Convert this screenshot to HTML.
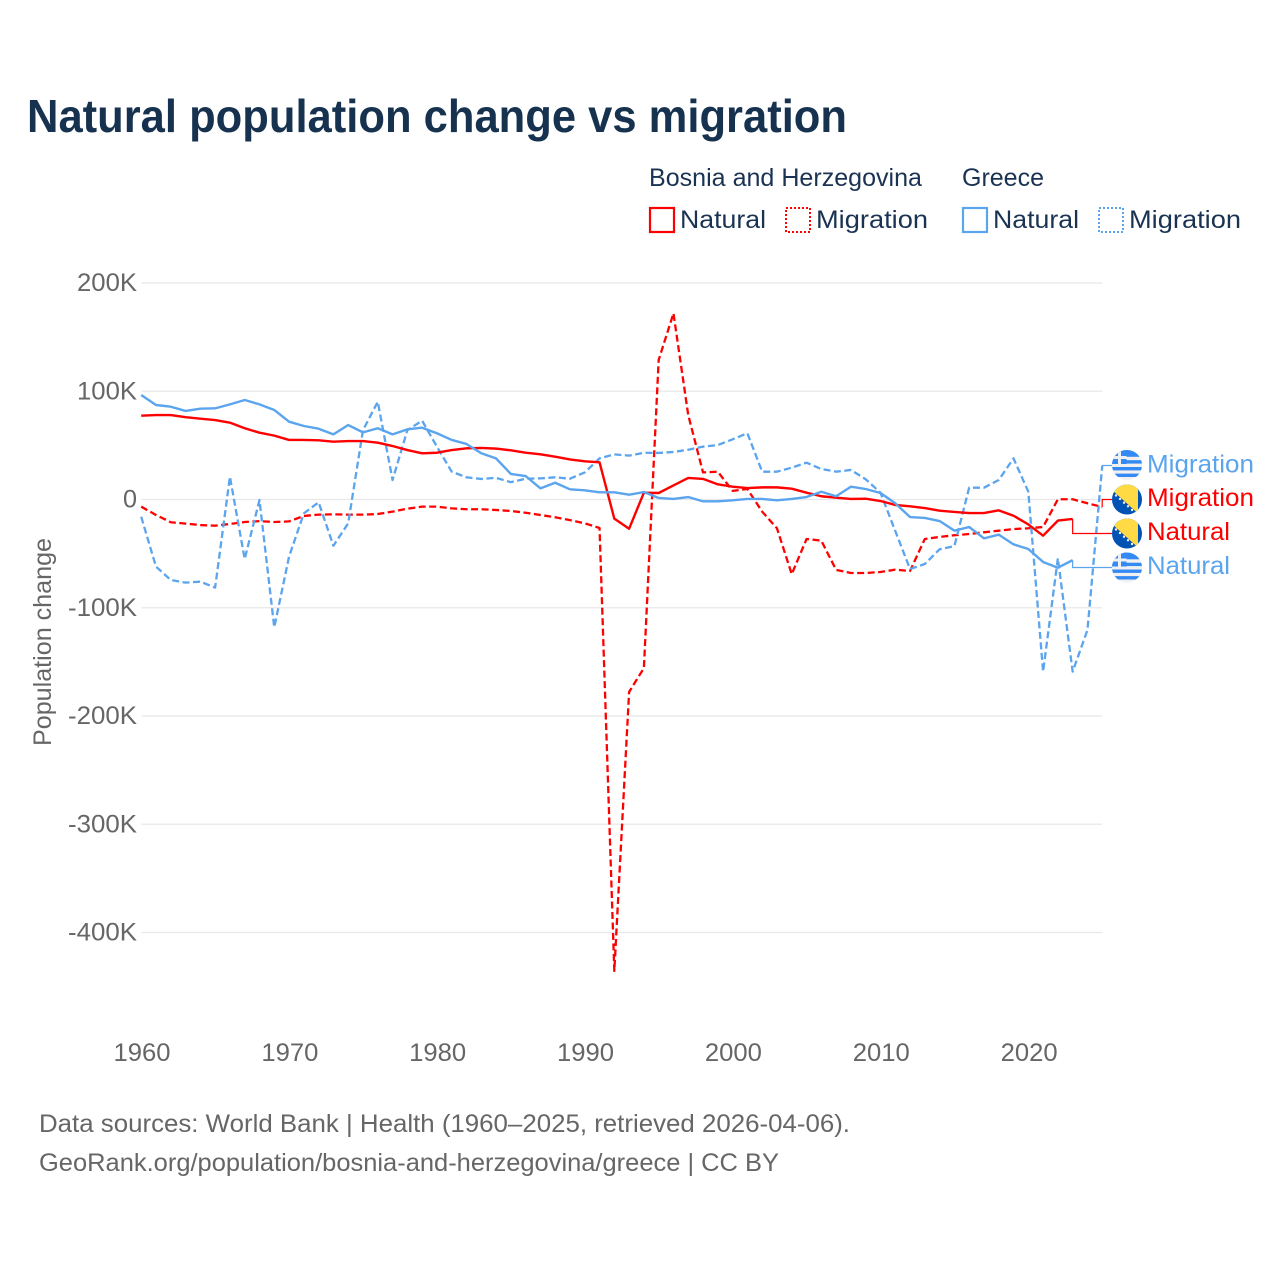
<!DOCTYPE html>
<html lang="en">
<head>
<meta charset="utf-8">
<title>Natural population change vs migration</title>
<style>
html,body{margin:0;padding:0;background:#fff;width:1280px;height:1280px;overflow:hidden}
svg{display:block}
text{font-family:"Liberation Sans",sans-serif}
</style>
</head>
<body>
<svg id="chart" xmlns="http://www.w3.org/2000/svg" width="1280" height="1280" viewBox="0 0 1280 1280">
  <defs>
    <clipPath id="flag-clip"><circle cx="0" cy="0" r="15"/></clipPath>
    <g id="flag-greece">
      <g clip-path="url(#flag-clip)">
        <rect x="-15" y="-15" width="30" height="30" fill="#f0f0f0"/>
        <rect x="-15" y="-15" width="30" height="6.8" fill="#338af3"/>
        <rect x="-15" y="-4.8" width="30" height="3.4" fill="#338af3"/>
        <rect x="-15" y="2" width="30" height="3.4" fill="#338af3"/>
        <rect x="-15" y="8.6" width="30" height="3.4" fill="#338af3"/>
        <rect x="-15" y="-15" width="14.5" height="14" fill="#338af3"/>
        <rect x="-15" y="-9" width="14.5" height="3" fill="#f0f0f0"/>
        <rect x="-9" y="-15" width="3" height="14" fill="#f0f0f0"/>
      </g>
    </g>
    <g id="flag-bosnia">
      <g clip-path="url(#flag-clip)">
        <rect x="-15" y="-15" width="30" height="30" fill="#0052b4"/>
        <polygon points="-21,-15 11,-15 11,14" fill="#ffda44"/>
        <circle cx="-11" cy="-4" r="1.2" fill="#f0f0f0"/>
        <circle cx="-7" cy="-0.5" r="1.2" fill="#f0f0f0"/>
        <circle cx="-3" cy="3.2" r="1.2" fill="#f0f0f0"/>
        <circle cx="1" cy="6.8" r="1.2" fill="#f0f0f0"/>
        <circle cx="5" cy="10.5" r="1.2" fill="#f0f0f0"/>
      </g>
    </g>
  </defs>

  <rect x="0" y="0" width="1280" height="1280" fill="#ffffff"/>

  <text x="27" y="132" font-size="46" font-weight="700" fill="#16324f" textLength="820" lengthAdjust="spacingAndGlyphs">Natural population change vs migration</text>

  <g font-size="25" fill="#1a3353">
    <text x="649" y="186" textLength="273" lengthAdjust="spacingAndGlyphs">Bosnia and Herzegovina</text>
    <text x="962" y="186" textLength="82" lengthAdjust="spacingAndGlyphs">Greece</text>

    <rect x="650" y="208" width="24" height="24" fill="none" stroke="#ff0000" stroke-width="2.2"/>
    <text x="680" y="228" textLength="86" lengthAdjust="spacingAndGlyphs">Natural</text>

    <rect x="786" y="208" width="24" height="24" fill="none" stroke="#ff0000" stroke-width="2" stroke-dasharray="2,2"/>
    <text x="816" y="228" textLength="112" lengthAdjust="spacingAndGlyphs">Migration</text>

    <rect x="963" y="208" width="24" height="24" fill="none" stroke="#5ba4ee" stroke-width="2.2"/>
    <text x="993" y="228" textLength="86" lengthAdjust="spacingAndGlyphs">Natural</text>

    <rect x="1099" y="208" width="24" height="24" fill="none" stroke="#5ba4ee" stroke-width="2" stroke-dasharray="2,2"/>
    <text x="1129" y="228" textLength="112" lengthAdjust="spacingAndGlyphs">Migration</text>
  </g>

  <g id="grid"></g>
  <g id="y-ticks"></g>
  <g id="x-ticks"></g>

  <text transform="translate(51,642) rotate(-90)" text-anchor="middle" font-size="25" fill="#666666" textLength="208" lengthAdjust="spacingAndGlyphs">Population change</text>

  <g id="series"></g>
  <g id="end-labels"></g>

  <text x="39" y="1132" font-size="25" fill="#666666" textLength="811" lengthAdjust="spacingAndGlyphs">Data sources: World Bank | Health (1960–2025, retrieved 2026-04-06).</text>
  <text x="39" y="1171" font-size="25" fill="#666666" textLength="740" lengthAdjust="spacingAndGlyphs">GeoRank.org/population/bosnia-and-herzegovina/greece | CC BY</text>
</svg>

<script>
const firstYear = 1960;
const yTickValues = [200, 100, 0, -100, -200, -300, -400];
const yTickLabels = ["200K", "100K", "0", "-100K", "-200K", "-300K", "-400K"];
const xTickYears = [1960, 1970, 1980, 1990, 2000, 2010, 2020];

// Values in thousands, one per year from 1960
const bosniaNatural = [
  77.4, 78, 78, 76, 74.7, 73.4, 71, 65.8, 61.7, 59,
  55, 55, 54.7, 53.4, 54, 54, 52.5, 49.4, 45.7, 42.7,
  43.2, 45.7, 47.3, 47.6, 47, 45.4, 43.2, 41.7, 39.5, 37,
  35.3, 34.4, -17.7, -27, 6.3, 6, 13, 19.9, 19, 14,
  11.8, 10.6, 11.2, 11.2, 10, 6.3, 3, 1.7, 0.5, 0.7,
  -1.4, -5, -6.3, -7.9, -10.3, -11.5, -12.5, -12.5, -10, -15,
  -23, -33.4, -19.5, -18
];
const bosniaMigration = [
  -6.6, -14.3, -21, -22.3, -23.6, -24.2, -22.6, -20.8, -20, -20.8,
  -20.2, -15.2, -14, -13.7, -14, -14, -13.4, -11.2, -8.5, -6.6,
  -6.6, -8.2, -9, -9, -9.7, -10.6, -12.2, -14.3, -16.4, -19,
  -22, -26.3, -435.5, -177.8, -155.7, 128.9, 172, 78, 25, 25.7,
  8, 9.7, -11.2, -26.6, -69, -36.5, -38, -65, -67.9, -67.9,
  -67, -64.8, -66, -36.5, -34.6, -33, -31.9, -30.3, -28.8, -27.3,
  -26.6, -25.4, 0.2, 0.2, -3.5, -6.9
];
const greeceNatural = [
  96.5, 87.3, 85.7, 81.8, 83.9, 84.2, 87.9, 91.9, 87.9, 82.7,
  71.9, 67.9, 65.4, 60.2, 68.8, 62, 65.8, 60.2, 64.8, 66.3,
  61.2, 55, 51.3, 42.7, 38, 23.6, 21.7, 10.3, 15.5, 9.4,
  8.5, 6.6, 6.6, 4.4, 6.9, 1.4, 0.5, 2.3, -1.7, -1.7,
  -0.7, 0.5, 0.5, -0.7, 0.5, 2.3, 7.2, 3, 11.8, 9.7,
  6, -3.5, -16.2, -17, -19.9, -28.8, -25.4, -35.9, -32.5, -41.4,
  -45.7, -57.7, -63, -56
];
const greeceMigration = [
  -15.9, -62, -74.4, -76.8, -75.9, -81.4, 21, -55, -0.5, -118,
  -52.8, -12.8, -2.6, -42.7, -22, 64, 90.3, 18, 64, 72.8,
  48.8, 25.7, 20.5, 19, 20, 16, 19.2, 19.5, 20.5, 19.2,
  25, 38, 41.7, 40.5, 43.2, 43, 43.9, 46, 48.8, 50.3,
  55.6, 61.2, 25.7, 25.7, 29.4, 34, 28.2, 25.7, 27.3, 18.7,
  6.3, -29, -64.2, -59.6, -46, -43, 10.9, 10.9, 18, 38,
  7.2, -159, -54.3, -159, -120.6, 30.9
];

const SVGNS = "http://www.w3.org/2000/svg";
const RED = "#ff0000";
const BLUE = "#5ba4ee";

function xScale(year) { return 141.2 + (year - firstYear) * 14.785; }
function yScale(value) { return 499.5 - value * 1.0825; }

function make(tag, attrs, parent) {
  const el = document.createElementNS(SVGNS, tag);
  for (const key in attrs) el.setAttribute(key, attrs[key]);
  parent.appendChild(el);
  return el;
}

function pathFor(values) {
  return values.map(function (v, i) {
    return (i ? "L" : "M") + xScale(firstYear + i).toFixed(2) + " " + yScale(v).toFixed(2);
  }).join(" ");
}

const gridGroup = document.getElementById("grid");
const yTickGroup = document.getElementById("y-ticks");
yTickValues.forEach(function (v, i) {
  const line = make("line", { x1: 141.5, x2: xScale(2025), y1: yScale(v), y2: yScale(v), stroke: "#e8e8e8", "stroke-width": 1.2 }, gridGroup);
  
  
  const label = make("text", { x: 137, y: yScale(v) + 8, "text-anchor": "end", "font-size": 25, fill: "#666666" }, yTickGroup);
  
  
  label.textContent = yTickLabels[i];
  const w = yTickLabels[i].length === 1 ? 14 : (yTickLabels[i].length === 4 ? 60 : 69);
  label.setAttribute("textLength", w);
  label.setAttribute("lengthAdjust", "spacingAndGlyphs");
});

const xTickGroup = document.getElementById("x-ticks");
xTickYears.forEach(function (year) {
  const label = make("text", { x: xScale(year) + 0.8, y: 1061, "text-anchor": "middle", "font-size": 25, fill: "#666666", textLength: 57, lengthAdjust: "spacingAndGlyphs" }, xTickGroup);
  
  
  label.textContent = String(year);
});

const seriesGroup = document.getElementById("series");

const lineBosniaMigration = make("path", { d: pathFor(bosniaMigration), fill: "none", stroke: RED, "stroke-width": 2.3, "stroke-dasharray": "7,3.5", "stroke-linejoin": "round" }, seriesGroup);



const lineGreeceMigration = make("path", { d: pathFor(greeceMigration), fill: "none", stroke: BLUE, "stroke-width": 2.3, "stroke-dasharray": "7,3.5", "stroke-linejoin": "round" }, seriesGroup);



const lineBosniaNatural = make("path", { d: pathFor(bosniaNatural), fill: "none", stroke: RED, "stroke-width": 2.4, "stroke-linejoin": "round" }, seriesGroup);



const lineGreeceNatural = make("path", { d: pathFor(greeceNatural), fill: "none", stroke: BLUE, "stroke-width": 2.4, "stroke-linejoin": "round" }, seriesGroup);



const endGroup = document.getElementById("end-labels");

function connector(values, labelY, color, name) {
  const year = firstYear + values.length - 1;
  const px = xScale(year);
  const py = yScale(values[values.length - 1]);
  const d = "M" + px.toFixed(2) + " " + py.toFixed(2) + " L" + px.toFixed(2) + " " + labelY + " L1112 " + labelY;
  const el = make("path", { d: d, fill: "none", stroke: color, "stroke-width": 1.2 }, endGroup);
  
  
}

function flag(href, labelY, name) {
  const el = make("use", { href: href, transform: "translate(1127," + labelY + ")" }, endGroup);
  
  
}

function endText(content, labelY, color, width, name) {
  const el = make("text", { x: 1147, y: labelY + 9, "font-size": 25, fill: color, textLength: width, lengthAdjust: "spacingAndGlyphs" }, endGroup);
  
  
  el.textContent = content;
}

connector(greeceMigration, 465.5, BLUE, 'connector-greece-migration');
connector(bosniaMigration, 499.5, RED, 'connector-bosnia-migration');
connector(bosniaNatural, 533.5, RED, 'connector-bosnia-natural');
connector(greeceNatural, 567.5, BLUE, 'connector-greece-natural');

flag("#flag-greece", 465, 'flag-greece-migration');
flag("#flag-bosnia", 499.5, 'flag-bosnia-migration');
flag("#flag-bosnia", 533.5, 'flag-bosnia-natural');
flag("#flag-greece", 567.5, 'flag-greece-natural');

endText("Migration", 463.5, BLUE, 107, 'end-label-greece-migration');
endText("Migration", 497, RED, 107, 'end-label-bosnia-migration');
endText("Natural", 531, RED, 83, 'end-label-bosnia-natural');
endText("Natural", 565, BLUE, 83, 'end-label-greece-natural');
</script>
</body>
</html>
